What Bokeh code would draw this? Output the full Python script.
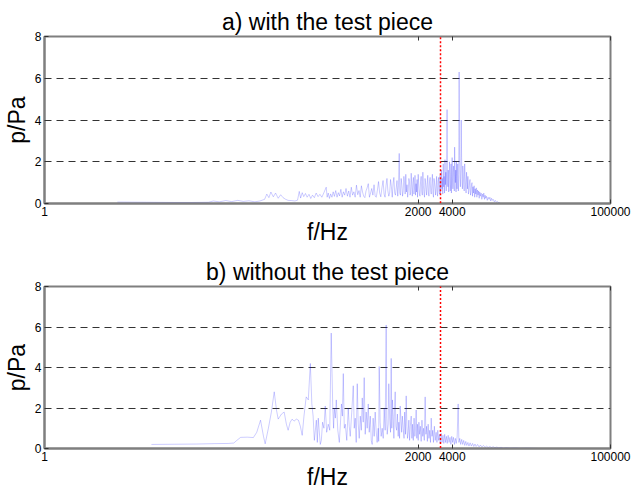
from bokeh.plotting import figure
from bokeh.layouts import column
from bokeh.models import FixedTicker, LogAxis, Arrow, Range1d
from bokeh.embed import file_html
from bokeh.resources import INLINE

# ---------------- data ----------------
x_ticks = [1, 2000, 4000, 100000]
x_tick_labels = ["1", "2000", "4000", "100000"]
y_ticks = [0, 2, 4, 6, 8]
grid_levels = [2, 4, 6]
marker_freq = 3150  # Hz, red dotted marker

titles = ["a) with the test piece", "b) without the test piece"]

freq_a = [
    4.4, 8, 14, 20, 28, 31, 35, 40, 45, 51,
    57, 64, 72, 80, 88, 92, 96, 100, 105, 110,
    116, 122, 128, 135, 142, 152, 163, 172, 178, 183,
    189, 195, 202, 209, 217, 225, 233, 242, 251, 261,
    271, 282, 294, 308, 314, 321, 329, 337, 346, 355,
    364, 374, 384, 394, 404, 415, 426, 437, 449, 461,
    474, 487, 500, 513, 527, 541, 555, 570, 585, 600,
    615, 630, 645, 660, 676, 692, 708, 725, 742, 760,
    778, 796, 815, 834, 853, 873, 893, 914, 935, 957,
    979, 1000, 1020, 1040, 1060, 1080, 1100, 1120, 1140, 1160,
    1180, 1200, 1220, 1240, 1260, 1280, 1300, 1320, 1340, 1360,
    1375, 1395, 1415, 1435, 1455, 1475, 1495, 1515, 1535, 1555,
    1575, 1595, 1615, 1635, 1655, 1675, 1695, 1715, 1735, 1755,
    1775, 1795, 1815, 1835, 1855, 1875, 1895, 1915, 1935, 1955,
    1975, 2000, 2025, 2050, 2075, 2100, 2125, 2150, 2175, 2200,
    2225, 2250, 2275, 2300, 2325, 2350, 2375, 2400, 2430, 2460,
    2490, 2520, 2550, 2580, 2610, 2640, 2670, 2700, 2730, 2760,
    2790, 2820, 2850, 2880, 2910, 2940, 2970, 3000, 3030, 3060,
    3090, 3120, 3150, 3180, 3210, 3240, 3270, 3300, 3330, 3360,
    3390, 3420, 3450, 3480, 3510, 3540, 3570, 3600, 3630, 3660,
    3690, 3720, 3750, 3780, 3810, 3840, 3870, 3900, 3930, 3960,
    3990, 4020, 4050, 4080, 4110, 4140, 4170, 4200, 4230, 4260,
    4290, 4320, 4350, 4380, 4410, 4440, 4470, 4500, 4530, 4560,
    4600, 4640, 4680, 4720, 4760, 4800, 4840, 4880, 4920, 4960,
    5000, 5050, 5100, 5150, 5200, 5250, 5300, 5350, 5400, 5450,
    5500, 5560, 5620, 5680, 5740, 5800, 5860, 5920, 5980, 6040,
    6100, 6170, 6240, 6310, 6380, 6450, 6520, 6600, 6680, 6760,
    6840, 6920, 7000, 7100, 7200, 7300, 7400, 7500, 7600, 7700,
    7800, 7900, 8000, 8150, 8300, 8450, 8600, 8750, 8900, 9050,
    9200, 9400, 9600, 9800, 10000, 10300, 10600,
]
p_a = [
    0.07, 0.06, 0.05, 0.05, 0.06, 0.12, 0.08, 0.14, 0.09, 0.15,
    0.10, 0.13, 0.08, 0.12, 0.20, 0.45, 0.28, 0.55, 0.32, 0.50,
    0.25, 0.42, 0.28, 0.20, 0.15, 0.14, 0.12, 0.16, 0.58, 0.26,
    0.52, 0.33, 0.48, 0.30, 0.44, 0.24, 0.40, 0.28, 0.50, 0.33,
    0.44, 0.30, 0.52, 0.78, 0.30, 0.50, 0.24, 0.46, 0.30, 0.56,
    0.34, 0.62, 0.30, 0.52, 0.36, 0.68, 0.30, 0.56, 0.40, 0.72,
    0.35, 0.60, 0.30, 0.78, 0.40, 0.56, 0.30, 0.88, 0.42, 0.62,
    0.30, 0.85, 0.55, 0.35, 0.28, 0.60, 0.75, 0.95, 0.30, 0.50,
    0.72, 0.40, 0.90, 0.35, 0.30, 0.65, 1.05, 0.50, 0.32, 0.75,
    1.10, 0.45, 0.30, 0.85, 1.20, 0.60, 0.35, 0.50, 1.15, 0.80,
    0.30, 0.95, 1.25, 0.50, 0.40, 0.75, 1.10, 0.35, 0.85, 2.40,
    0.50, 0.40, 1.20, 0.90, 0.35, 0.60, 1.30, 1.00, 0.45, 1.40,
    0.55, 0.90, 0.30, 0.65, 1.20, 1.05, 0.40, 0.50, 1.45, 0.85,
    0.35, 1.00, 1.25, 0.45, 0.70, 1.35, 0.40, 0.95, 0.55, 1.15,
    0.30, 1.40, 0.90, 0.45, 0.35, 1.05, 1.30, 0.60, 0.40, 1.50,
    0.85, 0.50, 0.30, 1.20, 1.00, 0.65, 0.40, 0.90, 1.35, 0.55,
    0.35, 1.05, 1.25, 0.60, 0.45, 0.95, 1.40, 0.50, 0.30, 1.20,
    1.00, 0.70, 0.40, 0.85, 1.30, 0.55, 0.35, 1.05, 1.25, 0.60,
    0.45, 1.35, 0.50, 1.00, 1.60, 0.70, 1.20, 0.45, 1.90, 0.80,
    1.30, 0.50, 2.10, 0.90, 1.50, 0.60, 1.80, 4.50, 1.00, 0.80,
    1.60, 0.55, 1.00, 2.00, 1.40, 0.60, 0.90, 1.90, 0.50, 1.30,
    2.20, 1.10, 0.70, 1.50, 1.80, 0.90, 0.60, 2.70, 1.40, 1.00,
    1.60, 0.55, 2.00, 1.20, 0.70, 1.50, 1.90, 1.00, 0.60, 1.40,
    6.30, 2.30, 1.20, 0.80, 1.70, 4.00, 2.20, 1.00, 0.70, 1.80,
    1.50, 0.90, 0.60, 1.90, 1.30, 0.80, 0.50, 1.50, 1.10, 0.70,
    1.30, 0.45, 0.60, 1.00, 1.15, 0.40, 0.55, 0.90, 1.00, 0.35,
    0.80, 0.50, 0.85, 0.30, 0.70, 0.45, 0.75, 0.30, 0.65, 0.40,
    0.60, 0.25, 0.55, 0.35, 0.50, 0.20, 0.45, 0.30, 0.50, 0.20,
    0.40, 0.25, 0.35, 0.15, 0.30, 0.20, 0.30, 0.12, 0.25, 0.15,
    0.20, 0.08, 0.15, 0.06, 0.10, 0.04, 0.02,
]

freq_b = [
    8.8, 14, 22, 32, 42, 47, 50, 54, 62, 70,
    75, 81, 86, 89, 95, 101, 107, 112, 116, 124,
    131, 137, 142, 148, 154, 160, 168, 175, 182, 189,
    196, 205, 214, 223, 230, 236, 242, 247, 252, 257,
    262, 267, 273, 279, 286, 294, 302, 311, 321, 331,
    341, 352, 358, 363, 371, 378, 390, 402, 412, 420,
    428, 436, 445, 454, 468, 482, 492, 502, 518, 534,
    545, 556, 567, 579, 591, 603, 616, 629, 641, 654,
    667, 681, 695, 709, 724, 739, 755, 770, 785, 800,
    817, 834, 850, 868, 887, 896, 905, 923, 942, 962,
    982, 1002, 1022, 1043, 1055, 1065, 1087, 1100, 1120, 1140,
    1155, 1170, 1185, 1203, 1220, 1237, 1253, 1270, 1290, 1311,
    1331, 1350, 1370, 1387, 1410, 1430, 1450, 1475, 1500, 1520,
    1545, 1567, 1590, 1610, 1632, 1655, 1680, 1705, 1735, 1760,
    1785, 1810, 1840, 1870, 1895, 1920, 1945, 1970, 2000, 2030,
    2060, 2090, 2125, 2160, 2195, 2230, 2265, 2305, 2340, 2375,
    2410, 2450, 2490, 2530, 2570, 2606, 2650, 2690, 2730, 2780,
    2830, 2884, 2930, 2980, 3030, 3080, 3130, 3192, 3250, 3310,
    3370, 3430, 3490, 3550, 3610, 3680, 3750, 3820, 3890, 3960,
    4030, 4100, 4180, 4260, 4340, 4420, 4510, 4580, 4660, 4750,
    4850, 4950, 5050, 5160, 5270, 5380, 5500, 5620, 5750, 5900,
    6050, 6200, 6350, 6500, 6700, 6900, 7100, 7300, 7550, 7800,
    8050, 8300, 8600, 8900, 9200, 9500, 9900, 10300, 10800, 11300,
    12000, 13000, 14500, 16000, 18000, 21000, 24000,
]
p_b = [
    0.20, 0.21, 0.22, 0.24, 0.25, 0.27, 0.40, 0.55, 0.56, 0.54,
    0.80, 1.40, 0.60, 0.23, 1.00, 1.80, 2.80, 1.90, 1.45, 1.70,
    1.80, 1.20, 0.90, 1.30, 1.45, 1.35, 1.45, 1.40, 1.10, 0.65,
    1.60, 2.55, 2.40, 4.20, 2.20, 1.60, 0.40, 0.90, 1.40, 0.30,
    1.50, 0.90, 0.20, 0.40, 1.30, 1.00, 2.10, 0.80, 1.20, 0.90,
    5.70, 2.00, 1.00, 2.00, 1.50, 2.40, 0.90, 0.30, 1.30, 2.20,
    1.60, 3.70, 1.00, 1.20, 0.40, 2.00, 1.10, 0.60, 1.80, 3.10,
    1.00, 1.50, 0.30, 3.20, 1.20, 0.50, 1.60, 0.90, 2.50, 1.30,
    3.50, 0.70, 1.80, 1.00, 2.20, 0.80, 1.60, 0.40, 0.20, 1.50,
    0.60, 1.80, 0.90, 0.30, 1.00, 0.35, 4.05, 1.30, 0.60, 1.00,
    0.50, 2.00, 0.90, 6.10, 1.50, 0.70, 1.20, 3.20, 1.50, 0.80,
    4.45, 1.00, 2.40, 1.60, 0.50, 2.00, 2.80, 1.10, 0.90, 1.70,
    0.60, 1.30, 0.50, 2.10, 1.40, 0.80, 1.60, 1.00, 0.50, 1.80,
    0.70, 2.60, 1.10, 0.50, 0.80, 1.40, 0.40, 1.10, 1.60, 0.50,
    1.20, 0.40, 1.50, 0.60, 1.00, 1.90, 0.50, 1.20, 0.40, 1.30,
    0.70, 1.10, 0.35, 1.40, 0.60, 1.00, 0.40, 2.55, 0.70, 1.10,
    0.35, 1.20, 0.50, 0.90, 0.30, 1.50, 0.60, 0.90, 0.30, 1.10,
    0.40, 0.80, 0.30, 0.90, 0.40, 0.70, 0.25, 0.75, 0.30, 0.65,
    0.25, 0.70, 0.30, 0.60, 0.25, 0.65, 0.30, 0.55, 0.20, 0.60,
    0.30, 0.55, 0.20, 0.50, 0.25, 0.60, 2.20, 0.30, 0.50, 0.20,
    0.45, 0.20, 0.40, 0.15, 0.35, 0.15, 0.30, 0.12, 0.28, 0.12,
    0.25, 0.10, 0.22, 0.10, 0.20, 0.08, 0.17, 0.07, 0.15, 0.06,
    0.12, 0.05, 0.10, 0.05, 0.09, 0.04, 0.07, 0.03, 0.06, 0.02,
    0.04, 0.02, 0.03, 0.01, 0.02, 0.01, 0.00,
]

# ---------------- styling ----------------
FONT = "Liberation Sans"
FRAME_GRAY = "#7f7f7f"
SPEC_COLOR = "#0000ff"


def make_panel(title, freq, pres, height, border_bottom, red_from, red_to):
    p = figure(width=635, height=height, x_axis_type="log",
               x_range=Range1d(1, 100000), y_range=Range1d(0, 8),
               output_backend="svg", toolbar_location=None,
               min_border_left=43, min_border_right=25,
               min_border_top=36, min_border_bottom=border_bottom,
               title=title)
    p.title.align = "center"
    p.title.text_font = FONT
    p.title.text_font_size = "23px"
    p.title.text_font_style = "normal"
    p.title.text_color = "black"
    p.title.standoff = 3
    p.background_fill_color = "white"
    p.border_fill_color = "white"
    p.outline_line_color = FRAME_GRAY
    p.outline_line_width = 2

    p.line(freq, pres, line_color=SPEC_COLOR, line_alpha=0.4, line_width=0.5)

    # grid
    p.xgrid.visible = False
    p.ygrid.ticker = FixedTicker(ticks=grid_levels)
    p.ygrid.grid_line_color = "#333333"
    p.ygrid.grid_line_dash = "7 5"
    p.ygrid.grid_line_width = 1

    # x axis
    xa = p.xaxis[0]
    xa.ticker = FixedTicker(ticks=x_ticks)
    xa.major_label_overrides = {t: l for t, l in zip(x_ticks, x_tick_labels)}
    xa.axis_label = "f/Hz"
    xa.axis_label_text_font = FONT
    xa.axis_label_text_font_size = "23px"
    xa.axis_label_text_font_style = "normal"
    xa.axis_label_text_color = "black"
    xa.axis_label_standoff = 0
    xa.major_label_text_font = FONT
    xa.major_label_text_font_size = "12px"
    xa.major_label_text_color = "black"
    xa.major_label_standoff = 3
    xa.major_tick_in = 4
    xa.major_tick_out = 0
    xa.major_tick_line_color = "#333333"
    xa.minor_tick_line_color = None
    xa.axis_line_color = FRAME_GRAY
    xa.axis_line_width = 2

    # y axis
    ya = p.yaxis[0]
    ya.ticker = FixedTicker(ticks=y_ticks)
    ya.axis_label = "p/Pa"
    ya.axis_label_text_font = FONT
    ya.axis_label_text_font_size = "23px"
    ya.axis_label_text_font_style = "normal"
    ya.axis_label_text_color = "black"
    ya.axis_label_standoff = 2
    ya.major_label_text_font = FONT
    ya.major_label_text_font_size = "12px"
    ya.major_label_text_color = "black"
    ya.major_label_standoff = 3
    ya.major_tick_in = 4
    ya.major_tick_out = 0
    ya.major_tick_line_color = "#333333"
    ya.minor_tick_line_color = None
    ya.axis_line_color = FRAME_GRAY
    ya.axis_line_width = 2

    # top axis: inside ticks only, labels invisible
    top = LogAxis(ticker=FixedTicker(ticks=x_ticks),
                  major_label_text_font_size="1px",
                  major_label_text_color=None,
                  major_label_standoff=0,
                  axis_line_color=None,
                  major_tick_in=4, major_tick_out=0,
                  major_tick_line_color="#333333",
                  minor_tick_line_color=None)
    p.add_layout(top, "above")

    # red dotted marker line (runs across the whole figure)
    p.add_layout(Arrow(end=None, start=None,
                       x_start=marker_freq, y_start=red_from,
                       x_end=marker_freq, y_end=red_to,
                       line_color="red", line_width=1.5, line_dash="2 2"))
    return p


pa = make_panel(titles[0], freq_a, p_a, 250, 47, 8.15, -3.0)
pb = make_panel(titles[1], freq_b, p_b, 242, 41, 10.0, -0.4)

layout = column(pa, pb, spacing=0)
open("out.html", "w").write(file_html(layout, INLINE))
